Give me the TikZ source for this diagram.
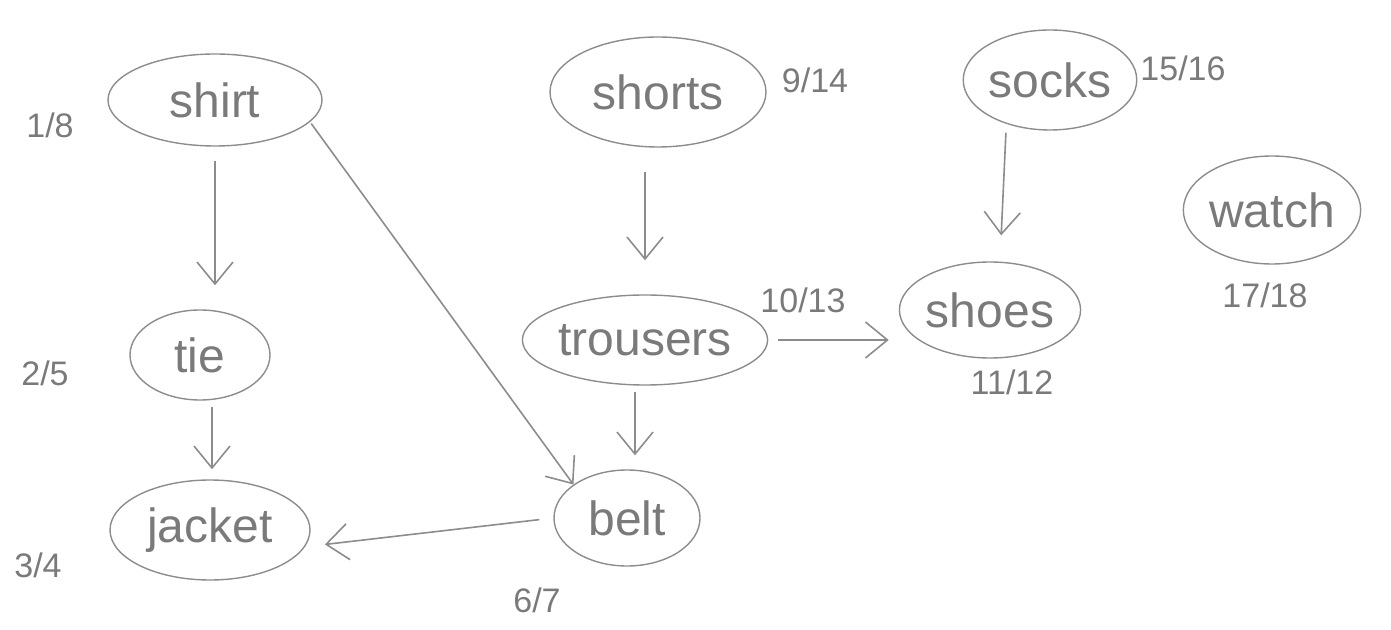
\documentclass[tikz,border=0pt]{standalone}
\usepackage{fontspec}
\setmainfont{Liberation Sans}
\usetikzlibrary{shapes.geometric,arrows.meta}
\definecolor{pencil}{HTML}{8C8C8C}
\definecolor{pencilt}{HTML}{7A7A7A}
\tikzset{
  item/.style={ellipse, draw=pencil, line width=0.7pt, inner sep=0pt, text=pencilt,
    font=\fontsize{24}{28}\selectfont},
  num/.style={text=pencilt, inner sep=0pt, font=\fontsize{17}{20}\selectfont},
  arr/.style={draw=pencil, line width=0.8pt, -{Straight Barb[length=11pt,width=18pt,line width=0.8pt]}},
}
\begin{document}
\begin{tikzpicture}[x=0.5pt,y=-0.5pt]
\useasboundingbox (0,0) rectangle (1391,630);
% nodes
\node[item, minimum width=107pt, minimum height=46pt] (shirt) at (215,100) {shirt};
\node[item, minimum width=108pt, minimum height=55pt] (shorts) at (658,92) {shorts};
\node[item, minimum width=85pt, minimum height=50pt] (socks) at (1050,80) {socks};
\node[item, minimum width=77pt, minimum height=54pt] (watch) at (1272,210) {watch};
\node[item, minimum width=70pt, minimum height=45pt] (tie) at (200,355) {tie};
\node[item, minimum width=105pt, minimum height=45pt] (trousers) at (645,340) {trousers};
\node[item, minimum width=86pt, minimum height=48pt] (shoes) at (990,310) {shoes};
\node[item, minimum width=100pt, minimum height=50pt] (jacket) at (210,530) {jacket};
\node[item, minimum width=73pt, minimum height=48pt] (belt) at (627,518) {belt};
% labels
\node[num] (l1) at (50,125) {1/8};
\node[num] (l2) at (45,373) {2/5};
\node[num] (l3) at (38,565) {3/4};
\node[num] (l6) at (537,600) {6/7};
\node[num] (l9) at (815,80) {9/14};
\node[num] (l10) at (803,300) {10/13};
\node[num] (l11) at (1012,382) {11/12};
\node[num] (l15) at (1183,68) {15/16};
\node[num] (l17) at (1265,295) {17/18};
% connectors
\draw[arr, shorten <=7pt, shorten >=12pt] (shirt.south) -- (shirt.south |- tie.north);
\draw[arr, shorten <=3pt, shorten >=5pt] ([xshift=6pt]tie.south) -- ([xshift=6pt]tie.south |- jacket.north);
\draw[arr, shorten <=1pt, shorten >=0pt] (shirt.-13) -- (belt.148);
\draw[arr, shorten <=12pt, shorten >=17pt] ([xshift=-6.5pt]shorts.south) -- ([xshift=-6.5pt]shorts.south |- trousers.north);
\draw[arr, shorten <=3pt, shorten >=7pt] ([xshift=-5pt]trousers.south) -- ([xshift=-5pt]trousers.south |- belt.north);
\draw[arr, shorten <=5pt, shorten >=5pt] (trousers.east) -- (shoes.west |- trousers.east);
\draw[arr, shorten <=7pt, shorten >=10pt] (belt.west) -- (jacket.-10);
\draw[arr, shorten <=1pt, shorten >=13pt] ([xshift=-22pt]socks.south) -- ([xshift=-25pt]socks.south |- shoes.north);
\end{tikzpicture}
\end{document}
